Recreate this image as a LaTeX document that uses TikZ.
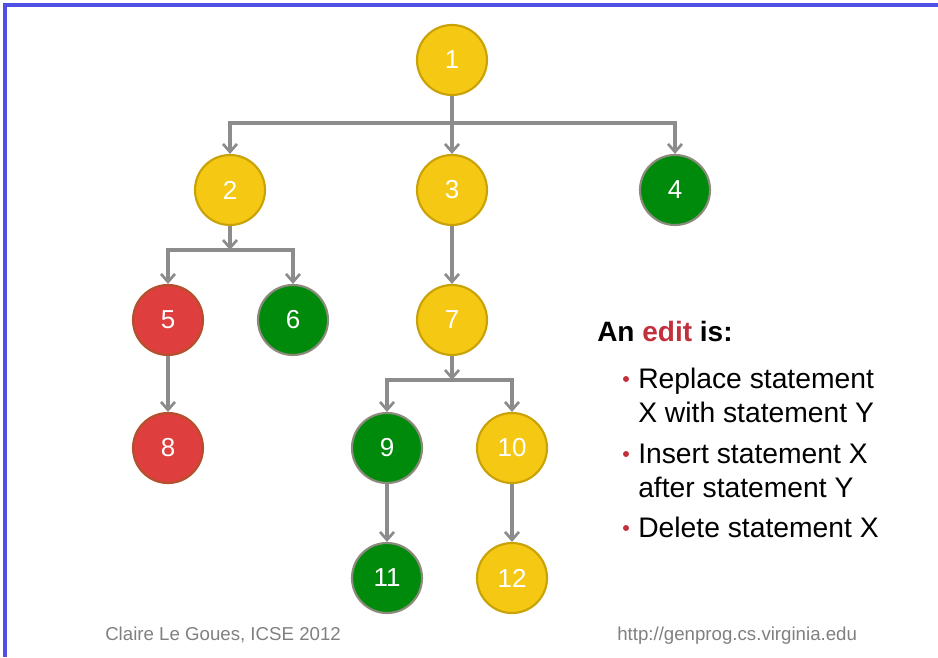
\documentclass[tikz,border=0pt]{standalone}
\usepackage{fontspec}
\setmainfont{Liberation Sans}
\usetikzlibrary{arrows.meta}
\definecolor{yelfill}{HTML}{F5C814}
\definecolor{yelline}{HTML}{C9A206}
\definecolor{redfill}{HTML}{DE3E3E}
\definecolor{redline}{HTML}{B4502C}
\definecolor{grnfill}{HTML}{008A0C}
\definecolor{grnline}{HTML}{8C8A7C}
\definecolor{edgegray}{HTML}{8C8C8C}
\definecolor{editred}{HTML}{C2303C}
\definecolor{frameblue}{HTML}{5050E6}
\tikzset{
    vtx/.style={circle,minimum size=52.5pt,inner sep=0pt,line width=1.6pt,text=white,font=\fontsize{19.5}{21}\selectfont},
    yel/.style={vtx,fill=yelfill,draw=yelline},
    rd/.style={vtx,fill=redfill,draw=redline},
    grn/.style={vtx,fill=grnfill,draw=grnline},
    edge/.style={edgegray,line width=2.3pt,-{Straight Barb[length=6pt,width=10.5pt,line width=2pt]}},
    bus/.style={edgegray,line width=2.3pt},
    txt/.style={anchor=base west,inner sep=0pt,font=\fontsize{21.2}{24}\selectfont},
    foot/.style={anchor=base west,inner sep=0pt,text=gray,font=\fontsize{14}{16}\selectfont}
}
\begin{document}
\begin{tikzpicture}[x=0.75pt,y=-0.75pt]
    \useasboundingbox (0,0) rectangle (938,657);
    \fill[white] (0,0) rectangle (938,657);
    \draw[frameblue,line width=2.4pt] (5,657)--(5,5)--(938,5);
    % tree
    \node[yel] (n1) at (452,60) {1};
    \node[yel] (n2) at (230,190) {2};
    \node[yel] (n3) at (452,190) {3};
    \node[grn] (n4) at (675,190) {4};
    \node[rd] (n5) at (168,320) {5};
    \node[grn] (n6) at (293,320) {6};
    \node[yel] (n7) at (452,320) {7};
    \node[rd] (n8) at (168,448) {8};
    \node[grn] (n9) at (387,448) {9};
    \node[yel] (n10) at (512,448) {10};
    \node[grn] (n11) at (387,578) {11};
    \node[yel] (n12) at (512,578) {12};
    \coordinate (b1) at (452,123);
    \coordinate (b2) at (230,250);
    \coordinate (b7) at (452,380);
    \draw[bus] (b1) -- (675,123);
    \draw[edge] (b1) -| (n2);
    \draw[edge] (b1) -| (n4);
    \draw[edge] (n1) -- (n3);
    \draw[edge] (n2) -- (b2);
    \draw[edge] (b2) -| (n5);
    \draw[edge] (b2) -| (n6);
    \draw[edge] (n3) -- (n7);
    \draw[edge] (n7) -- (b7);
    \draw[edge] (b7) -| (n9);
    \draw[edge] (b7) -| (n10);
    \draw[edge] (n5) -- (n8);
    \draw[edge] (n9) -- (n11);
    \draw[edge] (n10) -- (n12);
    % text
    \node[txt,font=\fontsize{21}{24}\selectfont\bfseries] (head) at (597,341) {An \textcolor{editred}{edit} is:};
    \foreach \y/\s/\b in {388/Replace statement/1,422/X with statement Y/0,463/Insert statement X/1,497/after statement Y/0,537/Delete statement X/1}{
        \node[txt] (l\y) at (638,\y) {\s};
        \ifnum\b=1 \fill[editred] (626,\y-9) circle (3);\fi
    }
    \node[foot] (auth) at (105,640) {Claire Le Goues, ICSE 2012};
    \node[foot] (url) at (617,640) {http://genprog.cs.virginia.edu};
\end{tikzpicture}
\end{document}
